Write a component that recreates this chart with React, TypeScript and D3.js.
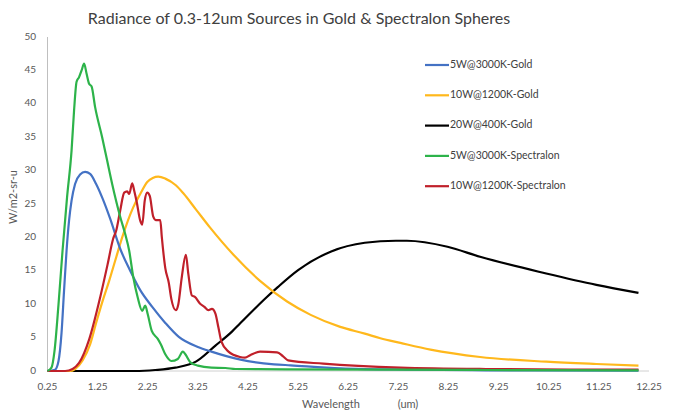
import * as d3 from "d3";

// wavelength (um), radiance (W/m2-sr-u)
const blueGold: [number, number][] = [
  [0.25, 0], [0.4, 0.2], [0.47, 1.5], [0.53, 5.7], [0.58, 12], [0.63, 18], [0.68, 22.5],
  [0.73, 25.5], [0.8, 28], [0.9, 29.4], [1.0, 29.8], [1.1, 29.5], [1.22, 28], [1.35, 25.8],
  [1.5, 22.8], [1.7, 18.3], [1.9, 15], [2.1, 12.1], [2.34, 9.6], [2.6, 7.2], [2.87, 5.1],
  [3.25, 3.6], [3.52, 2.9], [4.1, 1.7], [4.77, 1.0], [5.1, 0.85], [6.1, 0.4], [7.5, 0.2],
  [9, 0.1], [12.04, 0.05],
];

const orangeGold: [number, number][] = [
  [0.25, 0], [0.7, 0], [0.8, 0.3], [0.95, 1.6], [1.1, 4], [1.22, 7.2], [1.35, 10.5],
  [1.48, 13.5], [1.6, 16.5], [1.74, 20], [1.96, 24.5], [2.1, 26.5], [2.24, 28.3], [2.35, 28.9],
  [2.46, 29.1], [2.6, 28.8], [2.81, 27.8], [2.96, 26.6], [3.21, 24.2], [3.49, 21.5], [3.96, 17.4],
  [4.49, 13.5], [5.03, 10.4], [5.5, 8.4], [6.09, 6.6], [6.58, 5.6], [6.89, 4.9], [7.29, 4.2],
  [7.89, 3.2], [8.88, 2.1], [10.2, 1.4], [11.2, 1.05], [12.04, 0.8],
];

const blackGold: [number, number][] = [
  [0.25, 0], [2.0, 0], [2.4, 0.15], [2.8, 0.5], [3.21, 1.4], [3.6, 3.8], [3.93, 5.9],
  [4.09, 7.1], [4.6, 10.9], [4.85, 12.6], [5.25, 15.1], [5.91, 17.9], [6.58, 19.2], [7.2, 19.5],
  [7.42, 19.5], [8.23, 18.6], [8.88, 17.1], [10.2, 14.6], [11.2, 12.9], [12.04, 11.7],
];

const greenSpec: [number, number][] = [
  [0.25, 0], [0.33, 0.5], [0.39, 3], [0.47, 10], [0.55, 18], [0.64, 26], [0.73, 33], [0.78, 39],
  [0.83, 43.3], [0.88, 44], [0.93, 45], [0.98, 46], [1.03, 44.5], [1.08, 43], [1.13, 42.6],
  [1.2, 39.5], [1.34, 35], [1.44, 31.5], [1.54, 28], [1.7, 23.1], [1.8, 20.5], [1.88, 18],
  [1.96, 14.1], [2.05, 11], [2.14, 9], [2.2, 9.8], [2.25, 8.5], [2.33, 6], [2.45, 4.8],
  [2.51, 4], [2.6, 2.5], [2.72, 1.5], [2.85, 1.8], [2.95, 2.9], [3.0, 2.5], [3.1, 1.3],
  [3.25, 0.8], [3.52, 0.5], [3.8, 0.45], [4.0, 0.3], [5, 0.25], [7, 0.2], [9, 0.15], [12.04, 0.1],
];

const redSpec: [number, number][] = [
  [0.25, 0], [0.6, 0], [0.75, 0.3], [0.88, 1.2], [1.08, 4.7], [1.3, 11], [1.45, 16],
  [1.56, 19.8], [1.62, 21], [1.7, 24], [1.78, 26.7], [1.84, 26.9], [1.88, 26.5], [1.94, 28.1],
  [1.98, 27], [2.03, 25.3], [2.1, 22.5], [2.14, 21.9], [2.19, 25.5], [2.24, 26.7], [2.29, 26.2],
  [2.36, 23.1], [2.41, 22.6], [2.5, 22.6], [2.53, 20.1], [2.6, 15.4], [2.67, 13.2], [2.72, 10.8],
  [2.81, 9.1], [2.86, 10], [2.93, 14.1], [3.01, 17.4], [3.06, 14.5], [3.13, 11.3], [3.19, 11.1],
  [3.29, 10.1], [3.38, 9.6], [3.46, 9.1], [3.53, 9.3], [3.6, 8.6], [3.66, 6.5], [3.72, 4.4],
  [3.86, 2.9], [4.09, 2.1], [4.19, 2.0], [4.3, 2.4], [4.49, 2.9], [4.83, 2.8], [4.95, 2.2],
  [5.05, 1.6], [5.75, 1.1], [7.29, 0.5], [9, 0.3], [12.04, 0.2],
];

const seriesNames = [
  "5W@3000K-Gold",
  "10W@1200K-Gold",
  "20W@400K-Gold",
  "5W@3000K-Spectralon",
  "10W@1200K-Spectralon",
];
const seriesData = [blueGold, orangeGold, blackGold, greenSpec, redSpec];
const seriesColors = ["#4472C4", "#FFB81C", "#000000", "#2DB34A", "#C0202A"];

const xTicks = [0.25, 1.25, 2.25, 3.25, 4.25, 5.25, 6.25, 7.25, 8.25, 9.25, 10.25, 11.25, 12.25];
const yTicks = [0, 5, 10, 15, 20, 25, 30, 35, 40, 45, 50];

const width = 677;
const height = 415;
const font = "Lato, 'Open Sans', sans-serif";

export default function App() {
  const x = d3.scaleLinear().domain([0.25, 12.25]).range([47.5, 649]);
  const y = d3.scaleLinear().domain([0, 50]).range([371, 37]);

  const line = d3
    .line<[number, number]>()
    .x((d) => x(d[0]))
    .y((d) => y(d[1]))
    .curve(d3.curveMonotoneX);

  // draw order: gold lines, then spectralon on top
  const order = [2, 1, 0, 4, 3];

  return (
    <svg
      width={width}
      height={height}
      style={{ position: "absolute", left: 0, top: 0, background: "#fff" }}
      fontFamily={font}
    >
      {/* Title */}
      <text x={299} y={24} textAnchor="middle" fontSize={16} fill="#404040">
        Radiance of 0.3-12um Sources in Gold &amp; Spectralon Spheres
      </text>

      {/* Axes */}
      <line x1={x(0.25)} x2={x(0.25)} y1={y(50)} y2={y(0)} stroke="#bfbfbf" strokeWidth={1} />
      <line x1={x(0.25)} x2={x(12.25)} y1={y(0)} y2={y(0)} stroke="#d0d0d0" strokeWidth={1} />

      {yTicks.map((t) => (
        <text
          key={t}
          x={36}
          y={y(t)}
          textAnchor="end"
          dominantBaseline="middle"
          fontSize={10}
          fill="#595959"
        >
          {t}
        </text>
      ))}

      {xTicks.map((t) => (
        <text key={t} x={x(t)} y={387} textAnchor="middle" dominantBaseline="middle" fontSize={10} fill="#595959">
          {t.toFixed(2)}
        </text>
      ))}

      <text
        transform={`translate(14, 197) rotate(-90)`}
        textAnchor="middle"
        dominantBaseline="middle"
        fontSize={11}
        fill="#595959"
      >
        W/m2-sr-u
      </text>
      <text x={331} y={405} textAnchor="middle" dominantBaseline="middle" fontSize={11} fill="#595959">
        Wavelength
      </text>
      <text x={408} y={405} textAnchor="middle" dominantBaseline="middle" fontSize={11} fill="#595959">
        (um)
      </text>

      {/* Lines */}
      {order.map((i) => (
        <path
          key={seriesNames[i]}
          d={line(seriesData[i]) || ""}
          fill="none"
          stroke={seriesColors[i]}
          strokeWidth={2.2}
          strokeLinejoin="round"
        />
      ))}

      {/* Legend */}
      {seriesNames.map((name, i) => {
        const ly = 65 + i * 30.3;
        return (
          <g key={name}>
            <line x1={425} x2={449} y1={ly} y2={ly} stroke={seriesColors[i]} strokeWidth={2.2} />
            <text x={450} y={ly} dominantBaseline="middle" fontSize={10.5} fill="#404040">
              {name}
            </text>
          </g>
        );
      })}
    </svg>
  );
}
